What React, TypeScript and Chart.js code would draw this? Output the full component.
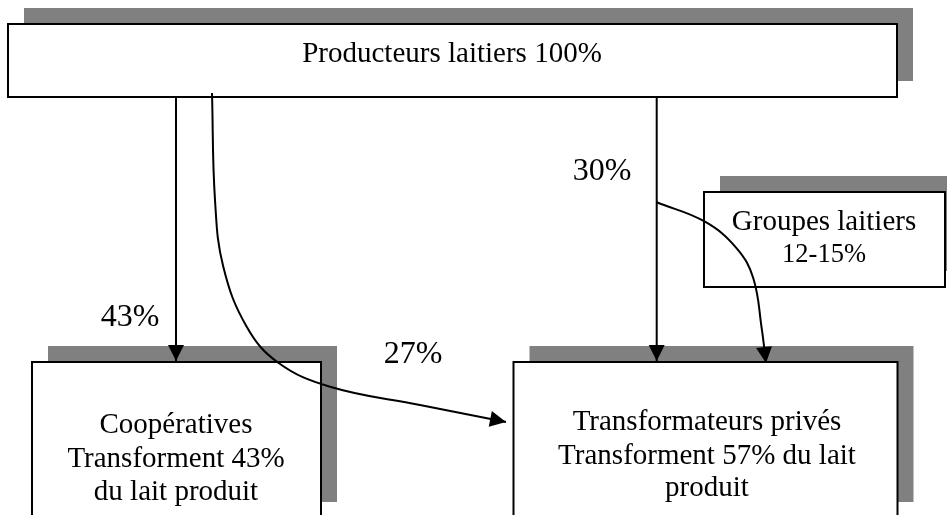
import React, { useEffect, useRef } from "react";
import { Chart, registerables } from "chart.js";

Chart.register(...registerables);

// ---- content ----
const nodeNames = ["producers", "groups", "coops", "privates"];
const nodeLabels: string[][] = [
  ["Producteurs laitiers 100%"],
  ["Groupes laitiers", "12-15%"],
  ["Coopératives", "Transforment 43%", "du lait produit"],
  ["Transformateurs privés", "Transforment 57% du lait", "produit"],
];
const flowLabels = ["43%", "27%", "30%"];

// ---- layout (diagram coordinates = pixels of a 947x515 plane) ----
const nodeBoxes = [
  { x: 8, y: 24, w: 889, h: 73 },
  { x: 704, y: 192, w: 241, h: 95 },
  { x: 32, y: 362, w: 289, h: 156 },
  { x: 513.5, y: 362, w: 384, h: 156 },
];
const nodeTextX = [452, 824, 176, 707];
const nodeBaselines = [
  [61.5],
  [230, 262],
  [433, 466.5, 499.5],
  [430, 463.5, 495.5],
];
const nodeFontSizes = [
  [29],
  [29, 26.5],
  [29, 29, 29],
  [29, 29, 29],
];
const flowLabelPos = [
  { x: 130, y: 326 },
  { x: 413, y: 362.5 },
  { x: 602, y: 180 },
];
const flowLabelSize = 32;

const pathCoops = [
  { x: 176, y: 97 },
  { x: 176, y: 361 },
];
const pathToPrivates = [
  { x: 212, y: 93 },
  { x: 215, y: 200 },
  { x: 223.3, y: 266.7 },
  { x: 246.7, y: 326.7 },
  { x: 278.3, y: 362.7 },
  { x: 330, y: 386.7 },
  { x: 420, y: 405 },
  { x: 506, y: 422 },
];
const pathPrivates = [
  { x: 656.7, y: 97 },
  { x: 656.7, y: 361 },
];
const pathGroups = [
  { x: 656.7, y: 202.3 },
  { x: 705, y: 221.7 },
  { x: 736.7, y: 248.3 },
  { x: 753.3, y: 278.3 },
  { x: 761.7, y: 328.3 },
  { x: 766, y: 363 },
];
const paths = [pathCoops, pathToPrivates, pathPrivates, pathGroups];
const pathTension = [0, 0.4, 0, 0.4];

const SHADOW = "#808080";
const SHADOW_OFF = 16;
const FONT = '"Liberation Serif", "Times New Roman", serif';

const diagramPlugin = {
  id: "diagram",
  beforeDatasetsDraw(chart: any) {
    const ctx = chart.ctx as CanvasRenderingContext2D;
    const sx = chart.scales.x;
    const sy = chart.scales.y;
    const px = (v: number) => sx.getPixelForValue(v);
    const py = (v: number) => sy.getPixelForValue(v);
    ctx.save();
    nodeBoxes.forEach((b, i) => {
      const x0 = px(b.x), x1 = px(b.x + b.w);
      const y0 = py(b.y), y1 = py(b.y + b.h);
      ctx.fillStyle = SHADOW;
      ctx.fillRect(px(b.x + SHADOW_OFF), py(b.y - SHADOW_OFF), x1 - x0, y1 - y0);
      ctx.fillStyle = "#ffffff";
      ctx.fillRect(x0, y0, x1 - x0, y1 - y0);
      ctx.strokeStyle = "#000000";
      ctx.lineWidth = 2;
      ctx.strokeRect(x0, y0, x1 - x0, y1 - y0);
      ctx.fillStyle = "#000000";
      ctx.textAlign = "center";
      ctx.textBaseline = "alphabetic";
      nodeLabels[i].forEach((line, j) => {
        ctx.font = `${nodeFontSizes[i][j]}px ${FONT}`;
        ctx.fillText(line, px(nodeTextX[i]), py(nodeBaselines[i][j]));
      });
    });
    ctx.font = `${flowLabelSize}px ${FONT}`;
    flowLabels.forEach((t, i) => {
      ctx.fillText(t, px(flowLabelPos[i].x), py(flowLabelPos[i].y));
    });
    ctx.restore();
  },
  afterDatasetsDraw(chart: any) {
    const ctx = chart.ctx as CanvasRenderingContext2D;
    const sx = chart.scales.x;
    const sy = chart.scales.y;
    ctx.save();
    ctx.fillStyle = "#000000";
    paths.forEach((p) => {
      const a = p[p.length - 2];
      const b = p[p.length - 1];
      const tx = sx.getPixelForValue(b.x), ty = sy.getPixelForValue(b.y);
      const ax = sx.getPixelForValue(a.x), ay = sy.getPixelForValue(a.y);
      const ang = Math.atan2(ty - ay, tx - ax);
      const len = 16, half = 8;
      const bx = tx - len * Math.cos(ang), by = ty - len * Math.sin(ang);
      ctx.beginPath();
      ctx.moveTo(tx, ty);
      ctx.lineTo(bx + half * Math.sin(ang), by - half * Math.cos(ang));
      ctx.lineTo(bx - half * Math.sin(ang), by + half * Math.cos(ang));
      ctx.closePath();
      ctx.fill();
    });
    ctx.restore();
  },
};

export default function App() {
  const ref = useRef<HTMLCanvasElement>(null);
  useEffect(() => {
    if (!ref.current) return;
    const chart = new Chart(ref.current, {
      type: "scatter",
      data: {
        datasets: paths.map((p, i) => ({
          label: nodeNames[i],
          data: p,
          showLine: true,
          borderColor: "#000000",
          borderWidth: 2,
          pointRadius: 0,
          tension: pathTension[i],
          cubicInterpolationMode: "default",
          fill: false,
        })),
      },
      options: {
        animation: false,
        responsive: true,
        maintainAspectRatio: false,
        events: [],
        layout: { padding: 0 },
        plugins: { legend: { display: false }, tooltip: { enabled: false } },
        scales: {
          x: { type: "linear", min: 0, max: 947, display: false },
          y: { type: "linear", min: 0, max: 515, reverse: true, display: false },
        },
      },
      plugins: [diagramPlugin],
    });
    return () => chart.destroy();
  }, []);
  return (
    <div style={{ position: "absolute", left: 0, top: 0, width: 947, height: 515, background: "#fff" }}>
      <canvas ref={ref} />
    </div>
  );
}
